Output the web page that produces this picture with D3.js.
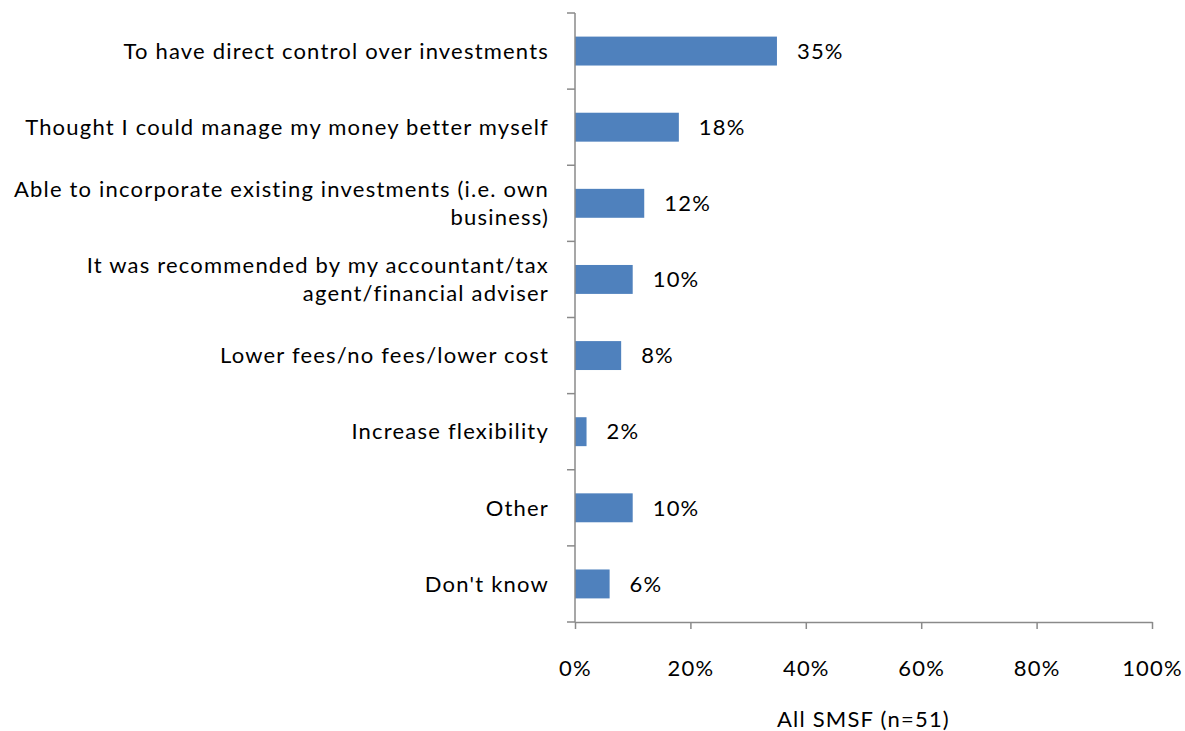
<!DOCTYPE html>
<html>
<head>
<meta charset="utf-8">
<script src="https://cdn.jsdelivr.net/npm/d3@7"></script>
<style>
  html, body { margin: 0; padding: 0; background: #fff; }
  svg { display: block; }
  text { font-family: Lato, "Open Sans", sans-serif; fill: #000; letter-spacing: 1.2px; }
</style>
</head>
<body>
<svg id="chart" width="1185" height="731"></svg>
<script>
// ---- data ----
const categories = [
  "To have direct control over investments",
  "Thought I could manage my money better myself",
  "Able to incorporate existing investments (i.e. own\nbusiness)",
  "It was recommended by my accountant/tax\nagent/financial adviser",
  "Lower fees/no fees/lower cost",
  "Increase flexibility",
  "Other",
  "Don't know"
];
const values = [35, 18, 12, 10, 8, 2, 10, 6];
const xTicks = [0, 20, 40, 60, 80, 100];
const xAxisTitle = "All SMSF (n=51)";

// ---- layout ----
(function () {
const svg = d3.select("#chart");
const mLeft = 575, mRight = 1152, mTop = 13, mBottom = 622;
const axisColor = "#8a8a8a";
const barColor = "#4F81BD";
const fontSize = 22;

const x = d3.scaleLinear().domain([0, 100]).range([mLeft, mRight]);
const y = d3.scaleBand().domain(categories).range([mTop, mBottom]).padding(0);
const bw = y.bandwidth();
const barH = bw * 0.38;

// bars
svg.append("g").selectAll("rect")
  .data(categories)
  .join("rect")
  .attr("x", x(0))
  .attr("y", d => y(d) + (bw - barH) / 2)
  .attr("width", (d, i) => x(values[i]) - x(0))
  .attr("height", barH)
  .attr("fill", barColor);

// value labels
svg.append("g").selectAll("text")
  .data(categories)
  .join("text")
  .attr("x", (d, i) => x(values[i]) + 20)
  .attr("y", d => y(d) + bw / 2)
  .attr("dy", "0.35em")
  .attr("font-size", fontSize)
  .text((d, i) => values[i] + "%");

// y axis line and ticks at band boundaries
const gy = svg.append("g");
gy.append("line")
  .attr("x1", mLeft).attr("x2", mLeft)
  .attr("y1", mTop).attr("y2", mBottom)
  .attr("stroke", axisColor).attr("stroke-width", 1.5);
const boundaries = categories.map(c => y(c)).concat([mBottom]);
gy.selectAll("line.tick")
  .data(boundaries)
  .join("line")
  .attr("class", "tick")
  .attr("x1", mLeft - 8).attr("x2", mLeft)
  .attr("y1", d => d).attr("y2", d => d)
  .attr("stroke", axisColor).attr("stroke-width", 1.5);

// category labels
const labelX = 549;
const labels = svg.append("g").selectAll("text")
  .data(categories)
  .join("text")
  .attr("text-anchor", "end")
  .attr("font-size", fontSize)
  .attr("x", labelX);
const lineH = 28;
labels.each(function(d) {
  const lines = d.split("\n");
  const t = d3.select(this);
  const cy = y(d) + bw / 2;
  const y0 = cy - (lines.length - 1) * lineH / 2;
  lines.forEach((ln, i) => {
    t.append("tspan")
      .attr("x", labelX)
      .attr("y", y0 + i * lineH)
      .attr("dy", "0.35em")
      .text(ln);
  });
});

// x axis
const gx = svg.append("g").attr("transform", `translate(0,${mBottom})`);
gx.call(d3.axisBottom(x).tickValues(xTicks).tickSize(7).tickSizeOuter(0)
  .tickFormat(d => d + "%"));
gx.select(".domain").attr("stroke", axisColor).attr("stroke-width", 1.5);
gx.selectAll(".tick line").attr("stroke", axisColor).attr("stroke-width", 1.5);
gx.selectAll(".tick text")
  .attr("font-size", fontSize)
  .attr("font-family", "Lato, 'Open Sans', sans-serif")
  .attr("fill", "#000")
  .attr("y", 46)
  .attr("dy", "0.35em");

// axis title
svg.append("text")
  .attr("x", (mLeft + mRight) / 2)
  .attr("y", 719)
  .attr("dy", "0.35em")
  .attr("text-anchor", "middle")
  .attr("font-size", fontSize)
  .text(xAxisTitle);
})();
</script>
</body>
</html>
